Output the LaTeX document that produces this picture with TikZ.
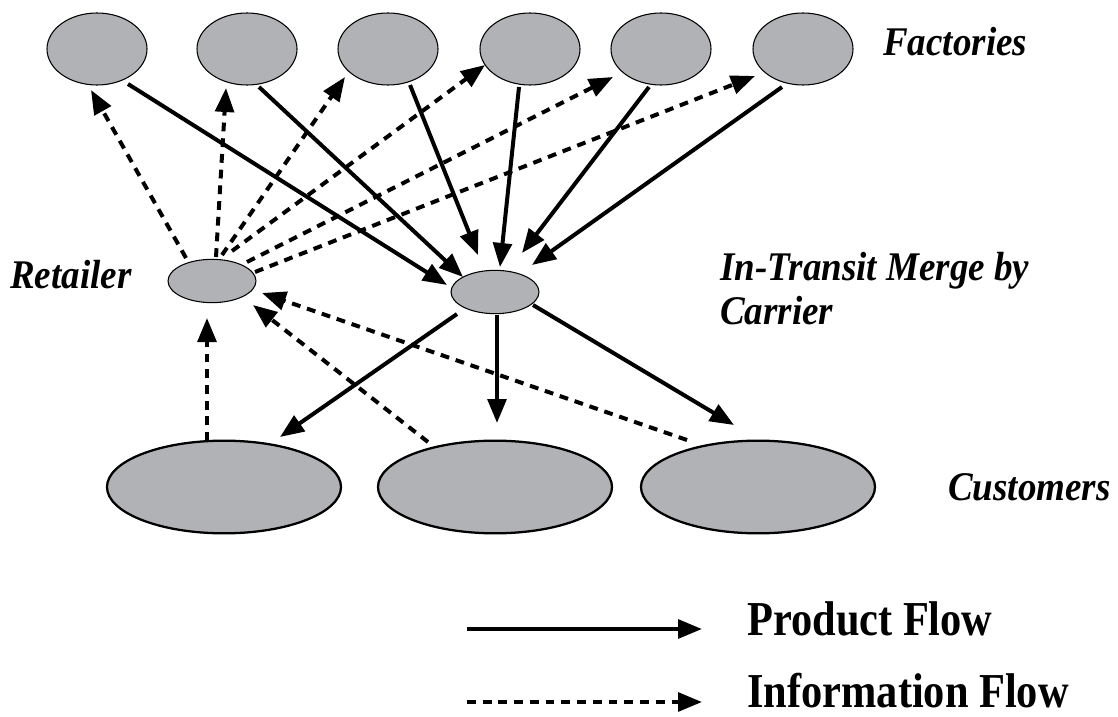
\documentclass[tikz,border=0pt]{standalone}
\usepackage{fontspec}
\setmainfont{Liberation Serif}
\usetikzlibrary{shapes.geometric,arrows.meta}
\definecolor{nodegray}{RGB}{177,178,182}
\begin{document}
\begin{tikzpicture}[x=0.75pt,y=-0.75pt,
  base/.style={ellipse, draw=black, fill=nodegray, inner sep=0pt, outer sep=0pt},
  fac/.style={base, line width=0.8pt, minimum width=75pt, minimum height=54pt},
  mid/.style={base, line width=0.8pt, minimum width=66pt, minimum height=32.5pt},
  cust/.style={base, line width=1.7pt, minimum width=175.5pt, minimum height=69.5pt},
  prod/.style={line width=3pt, -{Triangle[length=18pt,width=14pt]}},
  info/.style={prod, dash pattern=on 6.6pt off 5.2pt},
  lab/.style={font=\fontsize{27.75}{30}\selectfont\bfseries\itshape, inner sep=0pt, anchor=base west},
  leg/.style={font=\fontsize{31.8}{34}\selectfont\bfseries, inner sep=0pt, anchor=base west}]
\useasboundingbox (0,0) rectangle (1118,717);
% factories
\node[fac] (F1) at (97,49) {};
\node[fac] (F2) at (247,49) {};
\node[fac] (F3) at (388,49) {};
\node[fac] (F4) at (530,49) {};
\node[fac] (F5) at (661,49) {};
\node[fac] (F6) at (803,49) {};
% retailer and merge
\node[mid] (R) at (212,281) {};
\node[mid] (M) at (495,292) {};
% customers
\node[cust] (C1) at (224,487) {};
\node[cust] (C2) at (495,487) {};
\node[cust] (C3) at (758,487) {};
% labels
\node[lab] (lf) at (883,56) {\scalebox{1}[1.1]{Factories}};
\node[lab] (lr) at (10,288) {\scalebox{1}[1.1]{Retailer}};
\node[lab] (lm) at (720,280) {\scalebox{1}[1.1]{\begin{tabular}[t]{@{}l@{}}In-Transit Merge by\\Carrier\end{tabular}}};
\node[lab] (lc) at (948,500) {\scalebox{1}[1.1]{Customers}};
% product flows
\draw[prod] ([shift={(31,35)}]F1.center) -- ([shift={(-48,-7)}]M.center);
\draw[prod] ([shift={(12,38)}]F2.center) -- ([shift={(-32,-15)}]M.center);
\draw[prod] ([shift={(22,36)}]F3.center) -- ([shift={(-17,-37)}]M.center);
\draw[prod] ([shift={(-11,38)}]F4.center) -- ([shift={(5,-25)}]M.center);
\draw[prod] ([shift={(-12,38)}]F5.center) -- ([shift={(27,-39)}]M.center);
\draw[prod] ([shift={(-21,38)}]F6.center) -- ([shift={(37,-27)}]M.center);
\draw[prod] ([shift={(-38,22)}]M.center) -- ([shift={(56,-50)}]C1.center);
\draw[prod] ([shift={(2,23)}]M.center) -- ([shift={(2,-64)}]C2.center);
\draw[prod] ([shift={(38,13)}]M.center) -- ([shift={(-24,-62)}]C3.center);
% information flows
\draw[info] ([shift={(-26,-23)}]R.center) -- ([shift={(-6,41)}]F1.center);
\draw[info] ([shift={(4,-24)}]R.center) -- ([shift={(-21,39)}]F2.center);
\draw[info] ([shift={(10,-26)}]R.center) -- ([shift={(-43,28)}]F3.center);
\draw[info] ([shift={(20,-30)}]R.center) -- ([shift={(-45,16)}]F4.center);
\draw[info] ([shift={(35,-19)}]R.center) -- ([shift={(-48,28)}]F5.center);
\draw[info] ([shift={(43,-9)}]R.center) -- ([shift={(-48,27)}]F6.center);
\draw[info] ([shift={(-17,-46)}]C1.center) -- ([shift={(-5,37)}]R.center);
\draw[info] ([shift={(-67,-45)}]C2.center) -- ([shift={(41,24)}]R.center);
\draw[info] ([shift={(-71,-47)}]C3.center) -- ([shift={(50,12)}]R.center);
% legend
\coordinate (pa) at (467,629);
\coordinate (pb) at (702,629);
\coordinate (ia) at (467,702);
\coordinate (ib) at (702,702);
\draw[prod] (pa) -- (pb);
\draw[info] (ia) -- (ib);
\node[leg] (lp) at (747,635) {\scalebox{1}[1.15]{Product Flow}};
\node[leg] (li) at (747,707) {\scalebox{1}[1.15]{Information Flow}};
\end{tikzpicture}
\end{document}
